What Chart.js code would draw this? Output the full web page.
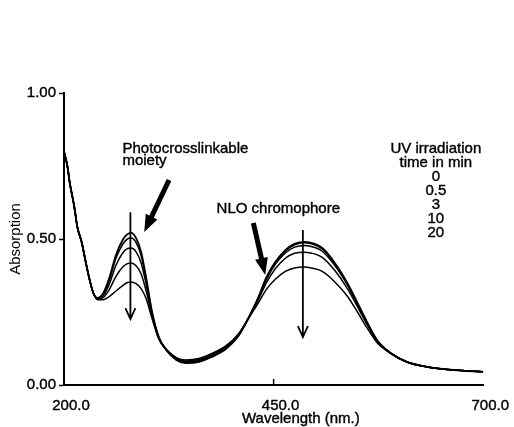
<!DOCTYPE html>
<html><head><meta charset="utf-8">
<script src="https://cdn.jsdelivr.net/npm/chart.js@4.4.1/dist/chart.umd.min.js"></script>
<style>html,body{margin:0;padding:0;background:#fff}#wrap{width:514px;height:427px;position:relative}</style>
</head><body><div id="wrap"><canvas id="c" width="514" height="427"></canvas></div>
<script>
// ---- data ----
const wavelengths = [200,204,207,212,216,221,226,231,235,240,247,254,262,270,275,280,286,292,298,305,313,322,334,345,361,376,393,408,420,432,441,452,464,475,487,499,508,523,538,550,562,574,589,609,633,665,700];
const abs0min  = [0.800,0.750,0.690,0.615,0.540,0.490,0.420,0.355,0.315,0.298,0.315,0.366,0.445,0.497,0.515,0.521,0.503,0.455,0.366,0.250,0.164,0.120,0.086,0.075,0.079,0.096,0.123,0.168,0.229,0.301,0.366,0.421,0.462,0.483,0.490,0.483,0.469,0.418,0.349,0.281,0.212,0.151,0.110,0.079,0.062,0.051,0.045];
const abs05min = [0.800,0.750,0.690,0.615,0.540,0.490,0.420,0.355,0.315,0.297,0.312,0.358,0.434,0.482,0.499,0.503,0.488,0.443,0.360,0.248,0.163,0.120,0.087,0.077,0.081,0.098,0.125,0.169,0.229,0.300,0.364,0.419,0.459,0.480,0.487,0.480,0.466,0.415,0.347,0.279,0.211,0.150,0.110,0.079,0.062,0.051,0.045];
const abs3min  = [0.800,0.750,0.690,0.615,0.540,0.490,0.420,0.355,0.315,0.296,0.307,0.345,0.410,0.452,0.466,0.469,0.456,0.418,0.345,0.243,0.162,0.121,0.089,0.079,0.084,0.101,0.128,0.171,0.229,0.298,0.359,0.413,0.452,0.472,0.478,0.471,0.458,0.409,0.342,0.276,0.209,0.149,0.110,0.079,0.062,0.051,0.045];
const abs10min = [0.800,0.750,0.690,0.615,0.540,0.490,0.420,0.355,0.315,0.294,0.300,0.327,0.372,0.404,0.415,0.418,0.408,0.380,0.322,0.236,0.160,0.121,0.091,0.082,0.087,0.104,0.131,0.173,0.229,0.293,0.348,0.398,0.434,0.451,0.455,0.449,0.437,0.392,0.330,0.268,0.204,0.147,0.110,0.079,0.062,0.051,0.045];
const abs20min = [0.800,0.750,0.690,0.615,0.540,0.490,0.420,0.355,0.315,0.292,0.292,0.303,0.322,0.340,0.350,0.353,0.347,0.330,0.295,0.228,0.158,0.122,0.094,0.086,0.091,0.108,0.134,0.175,0.228,0.282,0.326,0.362,0.389,0.401,0.404,0.398,0.389,0.353,0.304,0.250,0.193,0.143,0.110,0.079,0.062,0.051,0.045];
const seriesLabels = ['0','0.5','3','10','20'];
const xTickValues = [200, 450, 700];
const yTickValues = [0, 0.5, 1];
const legendLines = ['UV irradiation','time in min','0','0.5','3','10','20'];

// ---- chart ----
const FONT = "'Liberation Sans', Arial, Helvetica, sans-serif";
Chart.defaults.color = '#000';
Chart.defaults.font.family = FONT;
Chart.defaults.font.size = 15;

const allSeries = [abs0min, abs05min, abs3min, abs10min, abs20min];
const datasets = allSeries.map((s, k) => ({
  label: seriesLabels[k] + ' min',
  data: wavelengths.map((w, i) => ({x: w, y: s[i]})),
  borderColor: '#000',
  borderWidth: k === 0 ? 1.9 : 1.5,
  pointRadius: 0,
  fill: false,
  cubicInterpolationMode: 'monotone'
}));

function thickArrow(ctx, x1, y1, x2, y2, shaftW, headW, headL) {
  const dx = x2 - x1, dy = y2 - y1, len = Math.hypot(dx, dy);
  const ux = dx / len, uy = dy / len, nx = -uy, ny = ux;
  const bx = x2 - ux * headL, by = y2 - uy * headL;
  ctx.beginPath();
  ctx.moveTo(x1 + nx * shaftW / 2, y1 + ny * shaftW / 2);
  ctx.lineTo(bx + nx * shaftW / 2, by + ny * shaftW / 2);
  ctx.lineTo(bx + nx * headW / 2, by + ny * headW / 2);
  ctx.lineTo(x2, y2);
  ctx.lineTo(bx - nx * headW / 2, by - ny * headW / 2);
  ctx.lineTo(bx - nx * shaftW / 2, by - ny * shaftW / 2);
  ctx.lineTo(x1 - nx * shaftW / 2, y1 - ny * shaftW / 2);
  ctx.closePath();
  ctx.fill();
}
function thinArrow(ctx, x, yTop, yTip) {
  ctx.beginPath();
  ctx.moveTo(x, yTop); ctx.lineTo(x, yTip);
  ctx.moveTo(x - 5, yTip - 11); ctx.lineTo(x, yTip); ctx.lineTo(x + 5, yTip - 11);
  ctx.stroke();
}

const annotations = {
  notes: [
    {text: 'Photocrosslinkable', x: 269.7, y: 0.795, align: 'left'},
    {text: 'moiety', x: 269.7, y: 0.753, align: 'left'},
    {text: 'NLO chromophore', x: 382, y: 0.589, align: 'left'}
  ],
  legendX: 643.5, legendTopY: 0.795, legendStepPx: 14,
  thick: [
    {from: [325.3, 0.702], to: [295.7, 0.524]},
    {from: [425.8, 0.555], to: [440.0, 0.377]}
  ],
  thin: [
    {x: 279.2, top: 0.592, tip: 0.226},
    {x: 484.9, top: 0.531, tip: 0.164}
  ],
  xTitle: 'Wavelength (nm.)', xTitleAt: 482.5
};

function boldText(ctx, t, x, y) {
  ctx.fillText(t, x, y);
  ctx.strokeText(t, x, y);
}

const annotate = {
  id: 'annotate',
  afterDatasetsDraw(chart) {
    const {ctx, scales: {x, y}, chartArea} = chart;
    ctx.save();
    ctx.fillStyle = '#000'; ctx.strokeStyle = '#000';
    ctx.font = '15px ' + FONT;
    ctx.textBaseline = 'alphabetic';
    ctx.lineWidth = 0.4;
    annotations.notes.forEach(n => {
      ctx.textAlign = n.align;
      boldText(ctx, n.text, x.getPixelForValue(n.x), y.getPixelForValue(n.y));
    });
    ctx.textAlign = 'center';
    const lx = x.getPixelForValue(annotations.legendX);
    const ly = y.getPixelForValue(annotations.legendTopY);
    legendLines.forEach((t, i) => boldText(ctx, t, lx, ly + i * annotations.legendStepPx));
    // x axis title
    boldText(ctx, annotations.xTitle, x.getPixelForValue(annotations.xTitleAt), chartArea.bottom + 38);
    annotations.thick.forEach(a => thickArrow(ctx,
      x.getPixelForValue(a.from[0]), y.getPixelForValue(a.from[1]),
      x.getPixelForValue(a.to[0]), y.getPixelForValue(a.to[1]), 5, 13, 17));
    ctx.lineWidth = 1.8;
    annotations.thin.forEach(a => thinArrow(ctx, x.getPixelForValue(a.x), y.getPixelForValue(a.top), y.getPixelForValue(a.tip)));
    // inward tick at the middle x tick
    ctx.lineWidth = 1.5;
    const tx = x.getPixelForValue(xTickValues[1]);
    ctx.beginPath(); ctx.moveTo(tx, chartArea.bottom); ctx.lineTo(tx, chartArea.bottom - 6); ctx.stroke();
    ctx.restore();
  }
};

new Chart(document.getElementById('c'), {
  type: 'line',
  data: {datasets},
  plugins: [annotate],
  options: {
    responsive: false, animation: false, devicePixelRatio: 1,
    layout: {padding: {top: 93, right: 27, bottom: 0, left: 0}},
    plugins: {legend: {display: false}, tooltip: {enabled: false}},
    scales: {
      x: {
        type: 'linear', min: 200, max: 700,
        afterBuildTicks: s => { s.ticks = xTickValues.map(v => ({value: v})); },
        afterFit: s => { s.height = 42; },
        ticks: {callback: v => Number(v).toFixed(1), labelOffset: 7, padding: 12, maxRotation: 0, autoSkip: false, color: '#000', font: {size: 15}, textStrokeColor: '#000', textStrokeWidth: 0.4},
        grid: {drawOnChartArea: false, drawTicks: false},
        border: {color: '#000', width: 2}
      },
      y: {
        type: 'linear', min: 0, max: 1,
        afterBuildTicks: s => { s.ticks = yTickValues.map(v => ({value: v})); },
        afterFit: s => { s.width = 64; },
        ticks: {callback: v => Number(v).toFixed(2), padding: 3, color: '#000', font: {size: 15}, textStrokeColor: '#000', textStrokeWidth: 0.4},
        grid: {drawOnChartArea: false, drawTicks: true, tickLength: 5, tickWidth: 1.5, tickColor: '#000'},
        border: {color: '#000', width: 2},
        title: {display: true, text: 'Absorption', color: '#000', font: {size: 15}, padding: {top: 7, bottom: 0}}
      }
    }
  }
});
</script>
</body></html>
